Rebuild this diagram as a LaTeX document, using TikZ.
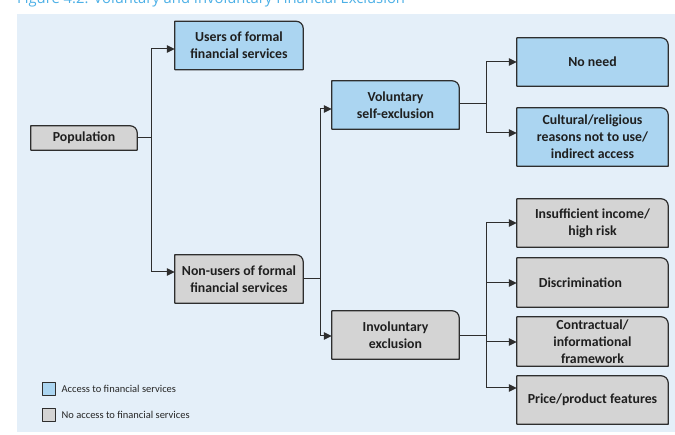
\documentclass[tikz,border=0pt]{standalone}
\usepackage{fontspec}
\setmainfont{Carlito}
\newfontfamily\titlefont{Open Sans}
\usetikzlibrary{arrows.meta}
\definecolor{panel}{HTML}{E4EFF9}
\definecolor{accblue}{HTML}{ABD5F1}
\definecolor{noacc}{HTML}{D4D4D4}
\definecolor{edge}{HTML}{2E2E2E}
\definecolor{titleblue}{HTML}{4DB0E6}
\pgfdeclarelayer{backdrop}
\pgfdeclarelayer{shapes}
\pgfsetlayers{backdrop,shapes,main}
\begin{document}
\begin{tikzpicture}[x=1pt,y=1pt,
  tab/.style={minimum width=#1, inner sep=0pt, align=center, text=black!88,
    font=\fontsize{13.8}{17}\selectfont\bfseries},
  tab/.default=151pt,
  wire/.style={draw=edge, line width=1pt},
  arr/.style={wire, -{Triangle[length=8pt,width=7.5pt]}},
  outline/.style={draw=edge, line width=1.2pt, line join=round},
  keytext/.style={anchor=west, inner sep=0pt, font=\fontsize{10.5}{12}\selectfont, text=black!85}]
\useasboundingbox (0,0) rectangle (675,-435);
\clip (0,0) rectangle (675,-435);

% backdrop and heading
\begin{pgfonlayer}{backdrop}
\fill[panel] (17,-14) rectangle (675,-432);
\end{pgfonlayer}
\node[anchor=base west, inner sep=0pt, text=titleblue,
      font=\titlefont\fontsize{14.8}{17}\selectfont] (title) at (17,-3.5)
  {Figure 4.2. Voluntary and Involuntary Financial Exclusion};

% boxes
\node[tab=128pt, minimum height=48pt] (users) at (239,-45.5) {Users of formal\\financial services};
\node[tab=106pt, minimum height=24pt] (pop) at (84,-138) {Population};
\node[tab=128pt, minimum height=48pt] (nonusers) at (239,-279) {Non-users of formal\\financial services};
\node[tab=127pt, minimum height=48pt] (vol) at (395.5,-105) {Voluntary\\self-exclusion};
\node[tab=127pt, minimum height=48pt] (invol) at (395.5,-335) {Involuntary\\exclusion};
\node[tab, minimum height=48pt] (noneed) at (592.5,-62) {No need};
\node[tab, minimum height=58pt] (cult) at (592.5,-137) {Cultural/religious\\reasons not to use/\\indirect access};
\node[tab, minimum height=48pt] (insuf) at (592.5,-223) {Insufficient income/\\high risk};
\node[tab, minimum height=49pt] (discr) at (592.5,-282.5) {\hspace*{-24pt}Discrimination};
\node[tab, minimum height=49pt] (contr) at (592.5,-341.5) {Contractual/\\informational\\framework};
\node[tab, minimum height=48pt] (price) at (592.5,-400) {Price/product features};

% box outlines with one rounded corner, drawn beneath the text
\begin{pgfonlayer}{shapes}
\foreach \n/\c in {users/accblue, vol/accblue, noneed/accblue, cult/accblue,
                   pop/noacc, nonusers/noacc, invol/noacc, insuf/noacc,
                   discr/noacc, contr/noacc, price/noacc}
  \draw[outline, fill=\c] (\n.south west) -- (\n.north west)
    -- ([xshift=-7pt]\n.north east) arc[start angle=90, end angle=0, radius=7pt]
    -- (\n.south east) -- cycle;
\end{pgfonlayer}

% connectors
\coordinate (j1) at ([xshift=14pt]pop.east);
\draw[wire] (pop.east) -- (j1);
\draw[arr] (j1) |- ([yshift=-3.5pt]users.west);
\draw[arr] (j1) |- ([yshift=7pt]nonusers.west);

\coordinate (j2) at ([xshift=17pt]nonusers.east);
\draw[wire] (nonusers.east) -- (j2);
\draw[arr] (j2) |- ([yshift=-4pt]vol.west);
\draw[arr] (j2) |- ([yshift=-1pt]invol.west);

\coordinate (j3) at ([xshift=27pt,yshift=1pt]vol.east);
\draw[wire] ([yshift=1pt]vol.east) -- (j3);
\draw[arr] (j3) |- (noneed.west);
\draw[arr] (j3) |- ([yshift=4pt]cult.west);

\coordinate (j4) at ([xshift=27pt,yshift=-1pt]invol.east);
\draw[wire] ([yshift=-1pt]invol.east) -- (j4);
\draw[arr] (j4) |- (insuf.west);
\draw[arr] (j4) |- ([yshift=-0.5pt]discr.west);
\draw[arr] (j4) |- ([yshift=-0.5pt]contr.west);
\draw[arr] (j4) |- ([yshift=12pt]price.west);

% key
\node[outline, line width=0.9pt, fill=accblue, minimum size=13pt, inner sep=0pt] (keyacc) at (48.5,-388.5) {};
\node[outline, line width=0.9pt, fill=noacc, minimum size=13pt, inner sep=0pt] (keyno) at (48.5,-414.5) {};
\node[keytext] (keyacctxt) at ([xshift=6pt]keyacc.east) {Access to financial services};
\node[keytext] (keynotxt) at ([xshift=6pt]keyno.east) {No access to financial services};
\end{tikzpicture}
\end{document}
